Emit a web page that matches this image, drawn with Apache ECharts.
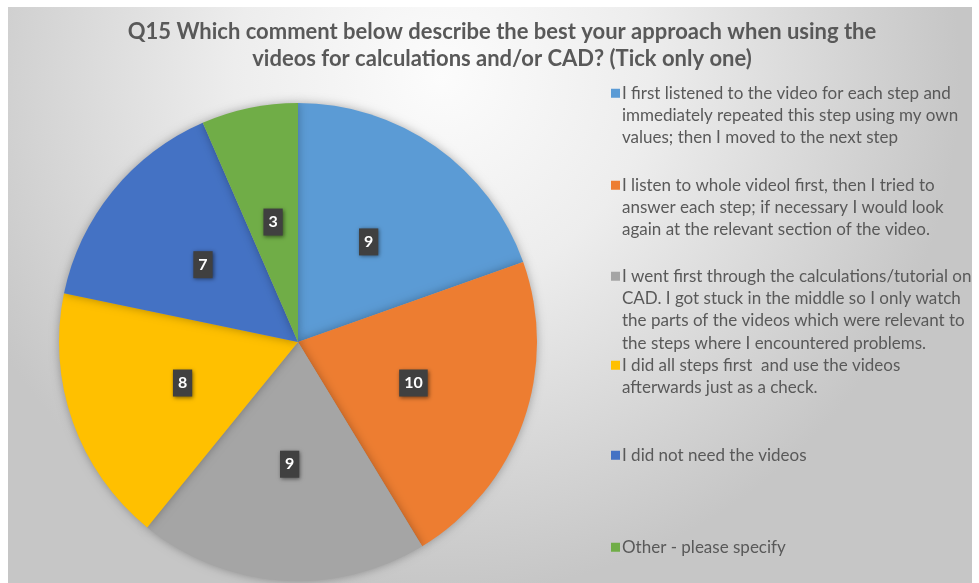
<!DOCTYPE html>
<html>
<head>
<meta charset="utf-8">
<script src="https://cdn.jsdelivr.net/npm/echarts@6/dist/echarts.min.js"></script>
<style>html,body{margin:0;padding:0;background:#fff}#c{width:979px;height:583px}</style>
</head>
<body>
<div id="c"></div>
<script>
var titleText = "Q15 Which comment below describe the best your approach when using the\nvideos for calculations and/or CAD? (Tick only one)";
var categories = [
  "I first listened to the video for each step and immediately repeated this step using my own values; then I moved to the next step",
  "I listen to whole videol first, then I tried to answer each step; if necessary I would look again at the relevant section of the video.",
  "I went first through the calculations/tutorial on CAD. I got stuck in the middle so I only watch the parts of the videos which were relevant to the steps where I encountered problems.",
  "I did all steps first  and use the videos afterwards just as a check.",
  "I did not need the videos",
  "Other - please specify"
];
var legendLines = [
  ["I first listened to the video for each step and", "immediately repeated this step using my own", "values; then I moved to the next step"],
  ["I listen to whole videol first, then I tried to", "answer each step; if necessary I would look", "again at the relevant section of the video."],
  ["I went first through the calculations/tutorial on", "CAD. I got stuck in the middle so I only watch", "the parts of the videos which were relevant to", "the steps where I encountered problems."],
  ["I did all steps first  and use the videos", "afterwards just as a check."],
  ["I did not need the videos"],
  ["Other - please specify"]
];
var values = [9, 10, 9, 8, 7, 3];
var colors = ["#5B9BD5", "#ED7D31", "#A5A5A5", "#FFC000", "#4472C4", "#70AD47"];
var legendTops = [77, 169, 260, 349, 439, 531];

var LH = 22.3;
var chart = echarts.init(document.getElementById('c'));
var legends = categories.map(function (name, i) {
  var n = legendLines[i].length;
  var H = n * LH;
  var y0 = LH / 2 - 4.5;
  var icon = 'path://M0,0h0.01v0.01h-0.01z M0,' + y0 + 'h9v9h-9z M0,' + (H - 0.01) + 'h0.01v0.01h-0.01z';
  return {
    data: [name],
    left: 606,
    top: legendTops[i],
    orient: 'vertical',
    icon: icon,
    itemWidth: 9,
    itemHeight: H,
    itemGap: 0,
    selectedMode: false,
    formatter: function () { return legendLines[i].join('\n'); },
    textStyle: { fontFamily: 'Lato', fontSize: 17, color: '#595959', lineHeight: LH, padding: [0, 0, 0, -3] }
  };
});
chart.setOption({
  animation: false,
  graphic: [{
    type: 'rect',
    shape: { x: 8, y: 7, width: 964, height: 576 },
    silent: true,
    z: -10,
    style: {
      fill: new echarts.graphic.RadialGradient(0.45, 0.12, 0.9, [
        { offset: 0, color: '#fcfcfc' },
        { offset: 0.4, color: '#ededed' },
        { offset: 1, color: '#c6c6c6' }
      ])
    }
  }],
  title: {
    text: titleText,
    left: 497,
    textAlign: 'center',
    top: 13,
    textStyle: { fontFamily: 'Lato', fontWeight: 'bold', fontSize: 22, color: '#595959', lineHeight: 27 }
  },
  legend: legends,
  series: [{
    type: 'pie',
    center: [298, 342],
    radius: 239,
    startAngle: 90,
    clockwise: true,
    data: categories.map(function (n, i) { return { name: n, value: values[i], itemStyle: { color: colors[i] } }; }),
    itemStyle: { shadowBlur: 10, shadowColor: 'rgba(0,0,0,0.3)' },
    label: {
      position: 'inside',
      formatter: '{c}',
      color: '#fff',
      fontFamily: 'Lato',
      fontWeight: 'bold',
      fontSize: 16,
      backgroundColor: '#404040',
      padding: [6, 5, 5, 5],
      shadowBlur: 4,
      shadowColor: 'rgba(0,0,0,0.5)',
      shadowOffsetX: 1,
      shadowOffsetY: 1
    },
    labelLine: { show: false },
    emphasis: { disabled: true }
  }]
});
</script>
</body>
</html>
